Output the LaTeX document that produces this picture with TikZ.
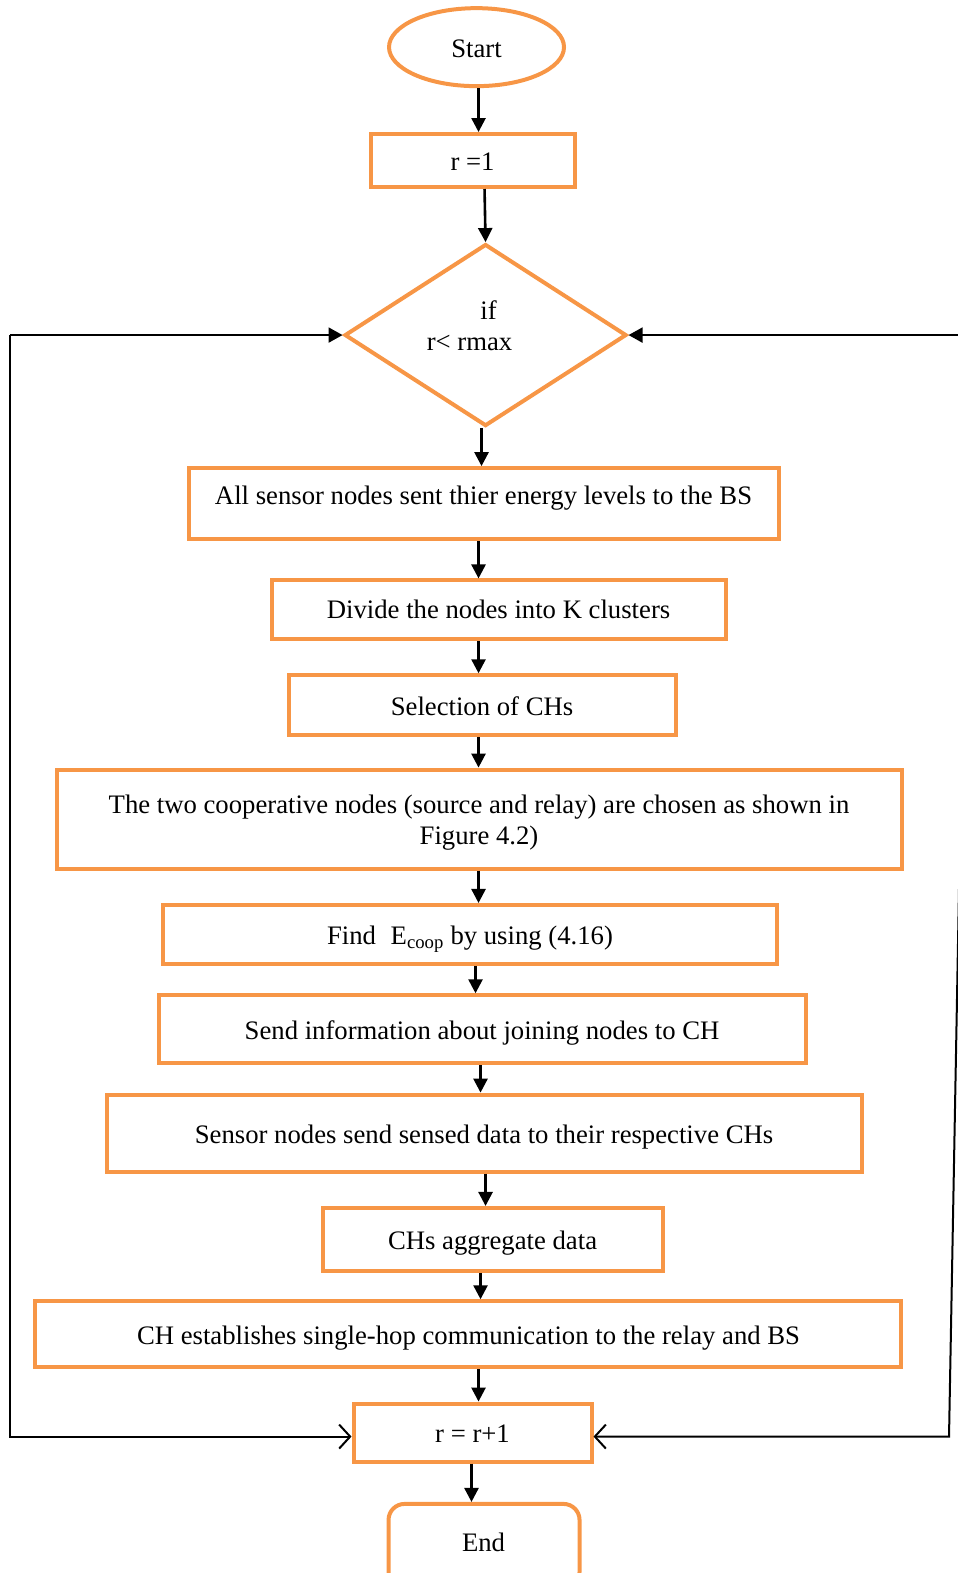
\documentclass[tikz,border=0pt]{standalone}
\usepackage{fontspec}
\setmainfont{Liberation Serif}
\usetikzlibrary{shapes.geometric,arrows.meta}
\definecolor{boxorange}{HTML}{F79646}
\begin{document}
\begin{tikzpicture}[x=1.0032pt,y=-1.0032pt,
  font=\fontsize{26.7}{31}\selectfont,
  stepbox/.style={draw=boxorange,line width=4pt,rectangle,inner sep=0pt,align=center},
  oneline/.style={text height=27pt,text depth=7pt},
  arr/.style={line width=2.6pt,-{Triangle[length=14pt,width=14pt]}},
  barb/.style={line width=2pt,-{Straight Barb[length=11pt,width=24pt,line width=2pt]}},
  fillarr/.style={line width=2pt,-{Triangle[length=14pt,width=15pt]}}]
\useasboundingbox (0,0) rectangle (954,1568);

% terminals and process boxes
\node[draw=boxorange,line width=4pt,ellipse,minimum width=175pt,minimum height=78pt,inner sep=0pt,oneline] (start) at (475,47) {Start};
\node[stepbox,oneline,minimum width=204pt,minimum height=53pt] (r1) at (471,160) {r =1};
\node[draw=boxorange,line width=4pt,diamond,aspect=1.55,minimum width=282pt,minimum height=182pt,inner sep=0pt] (dec) at (484,334) {};
\node[align=center,inner sep=0pt] (dectext) at (468,325) {\hspace*{38pt}if\\r< rmax};
\node[stepbox,minimum width=590pt,minimum height=71pt,text height=22pt,text depth=21pt] (b1) at (482,502) {All sensor nodes sent thier energy levels to the BS};
\node[stepbox,text height=25pt,text depth=7pt,minimum width=454pt,minimum height=59pt] (b2) at (497,608) {Divide the nodes into K clusters};
\node[stepbox,oneline,minimum width=387pt,minimum height=60pt] (b3) at (480.5,703) {Selection of CHs};
\node[stepbox,minimum width=845pt,minimum height=99pt] (b4) at (477.5,816.5) {\rule{0pt}{26pt}The two cooperative nodes (source and relay) are chosen as shown in\\Figure 4.2)};
\node[stepbox,oneline,minimum width=615pt,minimum height=59pt] (b5) at (468.5,931.5) {Find\hspace{0.55em}E\textsubscript{coop} by using (4.16)};
\node[stepbox,oneline,minimum width=647pt,minimum height=68pt] (b6) at (480.5,1026) {Send information about joining nodes to CH};
\node[stepbox,oneline,minimum width=755pt,minimum height=77pt] (b7) at (482.5,1129.5) {Sensor nodes send sensed data to their respective CHs};
\node[stepbox,oneline,minimum width=340pt,minimum height=63pt] (b8) at (491,1235.5) {CHs aggregate data};
\node[stepbox,oneline,minimum width=866pt,minimum height=66pt] (b9) at (467,1330) {CH establishes single-hop communication to the relay and BS};
\node[stepbox,oneline,minimum width=238pt,minimum height=58pt] (rr) at (471,1428) {r = r+1};
\node[draw=boxorange,line width=4pt,rounded corners=16pt,minimum width=191pt,minimum height=84pt,inner sep=0pt] (stop) at (482.5,1541) {};
\node[inner sep=0pt,oneline] (stoptext) at (482,1537) {End};

% main flow
\draw[arr] (477,0 |- start.south) -- (477,0 |- r1.north);
\draw[arr] (483,0 |- r1.south) -- (dec.north);
\draw[arr] (480,0 |- dec.south) -- (480,0 |- b1.north);
\draw[arr] (477,0 |- b1.south) -- (477,0 |- b2.north);
\draw[arr] (477,0 |- b2.south) -- (477,0 |- b3.north);
\draw[arr] (477,0 |- b3.south) -- (477,0 |- b4.north);
\draw[arr] (477,0 |- b4.south) -- (477,0 |- b5.north);
\draw[arr] (474,0 |- b5.south) -- (474,0 |- b6.north);
\draw[arr] (479,0 |- b6.south) -- (479,0 |- b7.north);
\draw[arr] (484,0 |- b7.south) -- (484,0 |- b8.north);
\draw[arr] (479,0 |- b8.south) -- (479,0 |- b9.north);
\draw[arr] (477,0 |- b9.south) -- (477,0 |- rr.north);
\draw[arr] (470,0 |- rr.south) -- (470,0 |- stop.north);

% loop-back lines
\coordinate (lt) at (10,334);
\coordinate (lb) at (10,1432);
\coordinate (rt) at (966,334);
\coordinate (rb) at (946,1432);
\draw[fillarr] (lt) -- (dec.west);
\draw[barb] (lt) -- (lb) -- (rr.west |- lb);
\draw[fillarr] (rt) -- (dec.east);
\draw[barb] (rt) -- (rb) -- (rr.east |- rb);
\end{tikzpicture}
\end{document}
